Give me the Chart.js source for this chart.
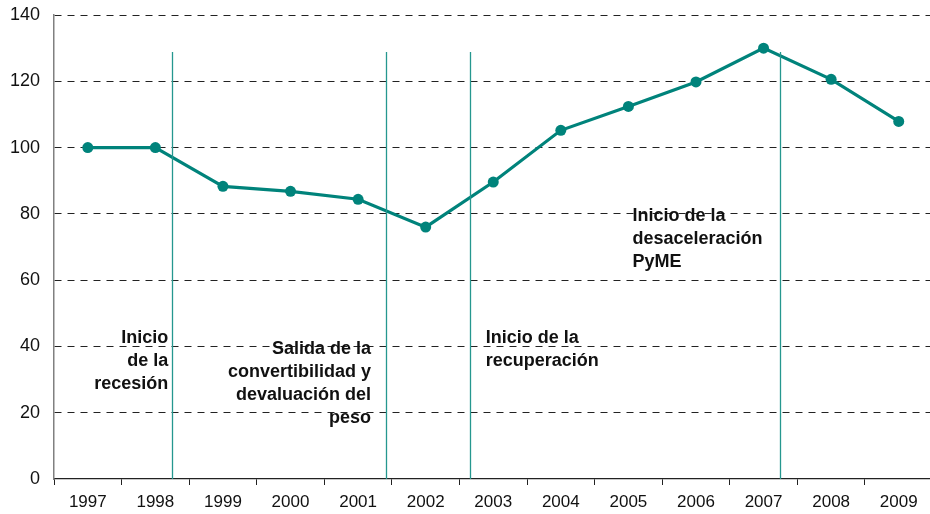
<!DOCTYPE html>
<html>
<head>
<meta charset="utf-8">
<script src="https://cdn.jsdelivr.net/npm/chart.js@4"></script>
<style>
  html, body { margin: 0; padding: 0; background: #fff; overflow: hidden; }
  #wrap { width: 938px; height: 514px; }
</style>
</head>
<body>
<div id="wrap"><canvas id="chart"></canvas></div>
<script>
const years = ["1997", "1998", "1999", "2000", "2001", "2002", "2003", "2004", "2005", "2006", "2007", "2008", "2009"];
const indexValues = [100, 100, 88.3, 86.8, 84.4, 76, 89.6, 105.2, 112.4, 119.8, 130, 120.6, 107.9];
const yTicks = [0, 20, 40, 60, 80, 100, 120, 140];

// events: where the vertical marker sits (in category units) and its label
const eventAt = [1.25, 4.416, 5.658, 10.244];
const eventLabels = [
  ["Inicio", "de la", "recesión"],
  ["Salida de la", "convertibilidad y", "devaluación del", "peso"],
  ["Inicio de la", "recuperación"],
  ["Inicio de la", "desaceleración", "PyME"]
];
// label anchor: category position, value of first line, alignment
const labelAt = [1.19, 4.19, 5.89, 8.06];
const labelTop = [42.5, 39.2, 42.5, 79.4];
const labelAlign = ["right", "right", "left", "left"];
const eventTop = 128.8;

const teal = "#00837b";

const eventsPlugin = {
  id: "events",
  afterDatasetsDraw(chart) {
    const ctx = chart.ctx;
    const x = chart.scales.x;
    const y = chart.scales.y;
    ctx.save();
    ctx.strokeStyle = "#25978f";
    ctx.lineWidth = 1.3;
    eventAt.forEach((pos) => {
      const px = Math.round(x.getPixelForValue(pos)) + 0.5;
      ctx.beginPath();
      ctx.moveTo(px, y.getPixelForValue(eventTop));
      ctx.lineTo(px, y.getPixelForValue(0));
      ctx.stroke();
    });
    ctx.fillStyle = "#111";
    ctx.font = "bold 18px 'Liberation Sans', Arial, sans-serif";
    ctx.textBaseline = "middle";
    eventLabels.forEach((lines, i) => {
      const px = x.getPixelForValue(labelAt[i]);
      const py = y.getPixelForValue(labelTop[i]);
      ctx.textAlign = labelAlign[i];
      lines.forEach((line, j) => {
        ctx.fillText(line, px, py + j * 23);
      });
    });
    ctx.restore();
  }
};

new Chart(document.getElementById("chart"), {
  type: "line",
  data: {
    labels: years,
    datasets: [
      {
        data: indexValues,
        borderColor: teal,
        backgroundColor: teal,
        borderWidth: 3.2,
        pointRadius: 5.5,
        pointBackgroundColor: teal,
        pointBorderWidth: 0,
        tension: 0,
        fill: false
      }
    ]
  },
  options: {
    responsive: true,
    maintainAspectRatio: false,
    animation: false,
    layout: { padding: { left: 0, right: 1, top: 15, bottom: 0 } },
    plugins: {
      legend: { display: false },
      tooltip: { enabled: false }
    },
    scales: {
      x: {
        offset: true,
        afterFit(scale) {
          scale.height = 35;
          scale.paddingLeft = 0;
          scale.paddingRight = 0;
        },
        grid: {
          offset: true,
          drawOnChartArea: false,
          drawTicks: true,
          tickLength: 6,
          color: "#222"
        },
        border: { color: "#222", width: 1.3 },
        ticks: {
          color: "#111",
          font: { family: "'Liberation Sans', Arial, sans-serif", size: 17 },
          padding: 7,
          maxRotation: 0,
          autoSkip: false
        }
      },
      y: {
        min: 0,
        max: 140,
        afterBuildTicks(axis) {
          axis.ticks = yTicks.map((v) => ({ value: v }));
        },
        afterFit(scale) {
          scale.width = 54;
          scale.paddingTop = 0;
          scale.paddingBottom = 0;
        },
        grid: {
          color: (c) => (c.tick.value === 0 ? "rgba(0,0,0,0)" : "#222"),
          drawTicks: false,
          lineWidth: 1
        },
        border: { color: "#808080", width: 1.5, dash: [7, 6] },
        ticks: {
          color: "#111",
          font: { family: "'Liberation Sans', Arial, sans-serif", size: 18 },
          padding: 14
        }
      }
    }
  },
  plugins: [eventsPlugin]
});
</script>
</body>
</html>
